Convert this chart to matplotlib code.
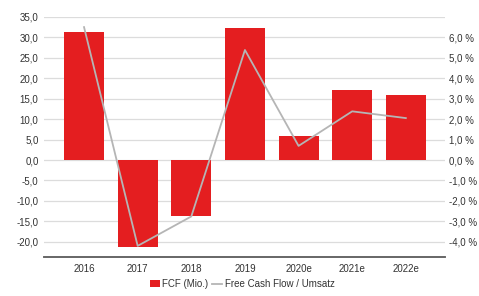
import numpy as np
import matplotlib.pyplot as plt
from matplotlib.ticker import FuncFormatter

years = ["2016", "2017", "2018", "2019", "2020e", "2021e", "2022e"]
fcf = [31.2, -21.3, -13.7, 32.3, 5.9, 17.2, 16.0]
fcf_margin = [6.5, -4.2, -2.76, 5.38, 0.69, 2.38, 2.05]

plt.rcParams['font.family'] = ['Liberation Sans', 'DejaVu Sans']
txt = "#333333"

fig = plt.figure(figsize=(4.79, 2.96), dpi=100)
ax = fig.add_axes([0.092, 0.132, 0.837, 0.811])
ax2 = ax.twinx()

x = np.arange(len(years))
bars = ax.bar(x, fcf, width=0.745, color="#e41e20", zorder=2, label="FCF (Mio.)")
line, = ax2.plot(x, fcf_margin, color="#b5b5b5", lw=1.3, zorder=3,
                 label="Free Cash Flow / Umsatz")

ax.set_xlim(-0.745, 6.73)
ax.set_ylim(-23.7, 35)
ax2.set_ylim(-4.74, 7)
ax.set_yticks(np.arange(-20, 36, 5))
ax2.set_yticks(np.arange(-4, 7, 1))
ax.yaxis.set_major_formatter(FuncFormatter(lambda v, p: f"{v:.1f}".replace(".", ",")))
ax2.yaxis.set_major_formatter(FuncFormatter(lambda v, p: f"{v:.1f} %".replace(".", ",")))
ax.set_xticks(x)
ax.set_xticklabels(years)

ax.grid(axis="y", color="#dcdcdc", lw=0.9, zorder=0)
ax.set_axisbelow(True)
ax2.set_zorder(ax.get_zorder() + 1)
ax2.patch.set_visible(False)

for a in (ax, ax2):
    for s in ["top", "left", "right"]:
        a.spines[s].set_visible(False)
    a.spines["bottom"].set_color("#666666")
    a.spines["bottom"].set_linewidth(1.2)
    a.tick_params(length=0, labelsize=7, colors=txt)
ax.tick_params(axis="y", pad=4)
ax2.tick_params(axis="y", pad=3)
ax.tick_params(axis="x", pad=5)

fig.legend(handles=[bars, line], loc="center", bbox_to_anchor=(0.506, 0.04),
           ncol=2, frameon=False, fontsize=7, handlelength=1.0,
           handletextpad=0.3, columnspacing=0.4, labelcolor=txt)

fig.savefig("out.png", dpi=100)
